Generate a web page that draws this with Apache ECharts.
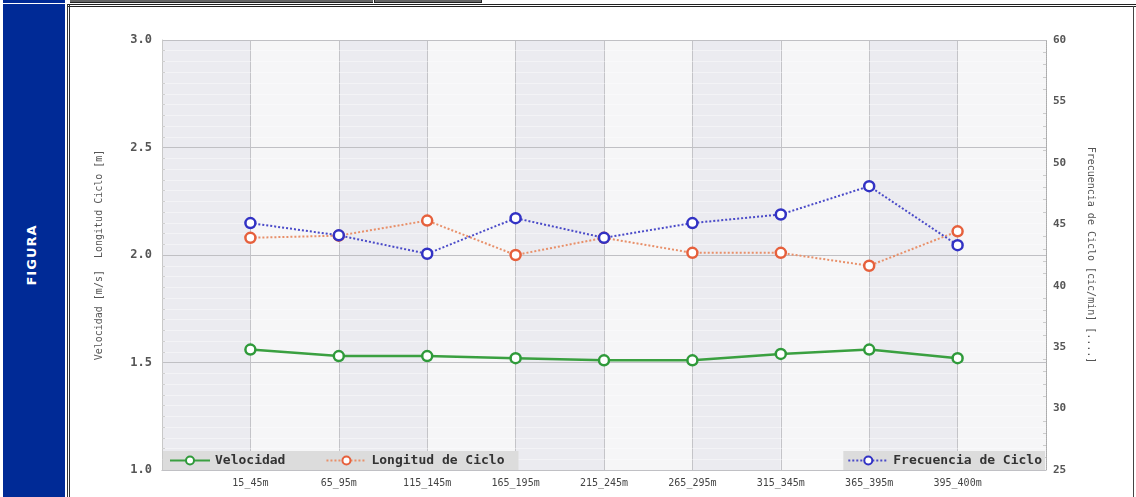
<!DOCTYPE html>
<html>
<head>
<meta charset="utf-8">
<script src="https://cdn.jsdelivr.net/npm/echarts@6/dist/echarts.min.js"></script>
<style>
html,body{margin:0;padding:0;width:1136px;height:497px;overflow:hidden;background:#fff;}
#panel{position:absolute;left:3px;top:4px;width:62px;height:493px;background:#002a96;}
#panelTop{position:absolute;left:3px;top:0;width:62px;height:3px;background:#002a96;}
#fig{position:absolute;left:31px;top:255px;transform:translate(-50%,-50%) rotate(-90deg);color:#fff;font:bold 13px "DejaVu Sans",sans-serif;letter-spacing:1px;white-space:nowrap;}
#vl1{position:absolute;left:67px;top:4px;width:1px;height:493px;background:#333;}
#vl2{position:absolute;left:69px;top:4px;width:1px;height:493px;background:#333;}
#hl1{position:absolute;left:67px;top:4px;width:1069px;height:1px;background:#222;}
#hl2{position:absolute;left:67px;top:6px;width:1069px;height:1px;background:#222;}
#vr{position:absolute;left:1133px;top:6px;width:1px;height:491px;background:#444;}
#tb1{position:absolute;left:70px;top:0;width:303px;height:2px;background:#666;border-bottom:1px solid #222;}
#tb2{position:absolute;left:374px;top:0;width:106px;height:2px;background:#666;border-bottom:1px solid #222;border-left:1px solid #222;border-right:1px solid #222;}
#chart{position:absolute;left:0;top:0;width:1136px;height:497px;}
</style>
</head>
<body>
<div id="chart"></div>
<div id="panelTop"></div>
<div id="panel"></div>
<div id="fig">FIGURA</div>
<div id="tb1"></div><div id="tb2"></div>
<div id="hl1"></div><div id="hl2"></div>
<div id="vl1"></div><div id="vl2"></div>
<div id="vr"></div>
<script>
const categories = ['15_45m','65_95m','115_145m','165_195m','215_245m','265_295m','315_345m','365_395m','395_400m'];
const velocidad = [1.56, 1.53, 1.53, 1.52, 1.51, 1.51, 1.54, 1.56, 1.52];
const longitudCiclo = [2.08, 2.09, 2.16, 2.00, 2.08, 2.01, 2.01, 1.95, 2.11];
const frecuenciaCiclo = [45.1, 44.1, 42.6, 45.5, 43.9, 45.1, 45.8, 48.1, 43.3];
const leftTicks = {min: 1.0, max: 3.0, interval: 0.5};
const rightTicks = {min: 25, max: 60, interval: 5};

const xData = [''].concat(categories, ['']);
const pad = arr => [null].concat(arr, [null]);
const mono = '"DejaVu Sans Mono", monospace';

const chart = echarts.init(document.getElementById('chart'), null, {renderer: 'canvas'});
chart.setOption({
  animation: false,
  backgroundColor: 'transparent',
  grid: {left: 162, right: 90, top: 40, bottom: 27, show: false},
  xAxis: {
    type: 'category', data: xData, boundaryGap: false, z: 0,
    axisLine: {show: true, lineStyle: {color: '#aaa', type: 'dotted'}},
    axisTick: {show: false},
    axisLabel: {interval: 0, color: '#444', fontFamily: mono, fontSize: 10, margin: 8},
    splitLine: {show: true, interval: 0, lineStyle: {color: '#c4c4c8', width: 1}},
    splitArea: {show: true, interval: 0, areaStyle: {color: ['#ebebf0', '#f6f6f7']}}
  },
  yAxis: [{
    type: 'value', min: leftTicks.min, max: leftTicks.max, interval: leftTicks.interval, z: 1,
    name: 'Velocidad [m/s]  Longitud Ciclo [m]', nameLocation: 'middle', nameGap: 58,
    nameTextStyle: {color: '#555', fontFamily: mono, fontSize: 10},
    axisLine: {show: true, lineStyle: {color: '#c8c8c8'}},
    axisTick: {show: false},
    minorTick: {show: true, splitNumber: 10, length: -3, lineStyle: {color: '#d0d0d0'}},
    minorSplitLine: {show: true, lineStyle: {color: 'rgba(255,255,255,0.4)'}},
    axisLabel: {color: '#555', fontFamily: mono, fontSize: 12, fontWeight: 'bold', margin: 10,
      formatter: v => v.toFixed(1)},
    splitLine: {show: true, lineStyle: {color: '#c0c0c4'}}
  }, {
    type: 'value', min: rightTicks.min, max: rightTicks.max, interval: rightTicks.interval,
    position: 'right', z: 1,
    name: 'Frecuencia de Ciclo [cic/min] [....]', nameLocation: 'middle', nameGap: 40, nameRotate: -90,
    nameTextStyle: {color: '#555', fontFamily: mono, fontSize: 10},
    axisLine: {show: true, lineStyle: {color: '#aaa', type: 'dotted'}},
    axisTick: {show: false},
    minorTick: {show: true, splitNumber: 5, length: -3, lineStyle: {color: '#ccc'}},
    axisLabel: {color: '#555', fontFamily: mono, fontSize: 11, fontWeight: 'bold', margin: 7},
    splitLine: {show: false}
  }],
  legend: [{
    left: 163, top: 451, padding: [3, 14, 3, 6], itemGap: 40,
    backgroundColor: '#dcdcdc', itemWidth: 40, itemHeight: 10,
    textStyle: {color: '#333', fontFamily: mono, fontSize: 13, fontWeight: 'bold'},
    data: ['Velocidad', 'Longitud de Ciclo']
  }, {
    right: 91, top: 451, padding: [3, 3, 3, 4],
    backgroundColor: '#dcdcdc', itemWidth: 40, itemHeight: 10,
    textStyle: {color: '#333', fontFamily: mono, fontSize: 13, fontWeight: 'bold'},
    data: ['Frecuencia de Ciclo']
  }],
  series: [{
    name: 'Velocidad', type: 'line', yAxisIndex: 0, data: pad(velocidad),
    symbol: 'circle', symbolSize: 10, showAllSymbol: true,
    itemStyle: {color: '#fff', borderColor: '#2f9a3a', borderWidth: 2.5},
    lineStyle: {color: '#3aa040', width: 2.5}, z: 3
  }, {
    name: 'Longitud de Ciclo', type: 'line', yAxisIndex: 0, data: pad(longitudCiclo),
    symbol: 'circle', symbolSize: 10, showAllSymbol: true,
    itemStyle: {color: '#fff', borderColor: '#e6603c', borderWidth: 2.5},
    lineStyle: {color: '#e8906a', width: 2, type: 'dotted'}, z: 3
  }, {
    name: 'Frecuencia de Ciclo', type: 'line', yAxisIndex: 1, data: pad(frecuenciaCiclo),
    symbol: 'circle', symbolSize: 10, showAllSymbol: true,
    itemStyle: {color: '#fff', borderColor: '#3232c4', borderWidth: 2.5},
    lineStyle: {color: '#4a4ac8', width: 2, type: 'dotted'}, z: 4
  }]
});
</script>
</body>
</html>
